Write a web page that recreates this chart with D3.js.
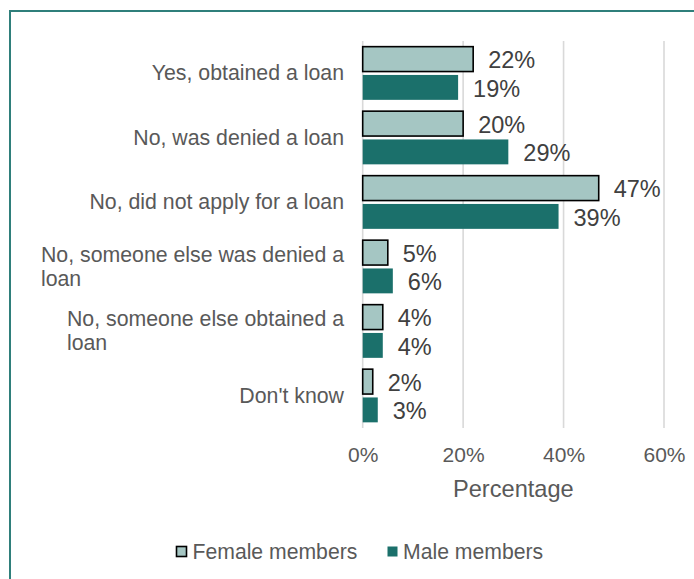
<!DOCTYPE html>
<html>
<head>
<meta charset="utf-8">
<script src="https://cdn.jsdelivr.net/npm/d3@7"></script>
<style>
  html, body { margin: 0; padding: 0; background: #ffffff; }
  svg { display: block; font-family: "Liberation Sans", Arial, sans-serif; }
</style>
</head>
<body>
<svg id="chart" width="694" height="579"></svg>
<script>
// Loan application outcomes by gender (percent of respondents)
const categories = [
  "Yes, obtained a loan",
  "No, was denied a loan",
  "No, did not apply for a loan",
  "No, someone else was denied a loan",
  "No, someone else obtained a loan",
  "Don't know"
];
const seriesNames = ["Female members", "Male members"];
const femaleValues = [22, 20, 47, 5, 4, 2];
const maleValues = [19, 29, 39, 6, 4, 3];
const tickValues = [0, 20, 40, 60];
const axisTitle = "Percentage";

const colors = { "Female members": "#a5c6c3", "Male members": "#1b706b" };
const strokes = { "Female members": "#000000", "Male members": "none" };

const rows = categories.map((c, i) => ({
  category: c,
  values: [
    { series: seriesNames[0], value: femaleValues[i] },
    { series: seriesNames[1], value: maleValues[i] }
  ]
}));

const svg = d3.select("#chart");

// outer frame
svg.append("rect")
  .attr("x", 10).attr("y", 11)
  .attr("width", 720).attr("height", 620)
  .attr("fill", "none")
  .attr("stroke", "#2f7f7b")
  .attr("stroke-width", 2);

const x = d3.scaleLinear().domain([0, 60]).range([362.7, 664]);
const y = d3.scaleBand().domain(categories).range([41, 428]).padding(0);
const ySub = d3.scaleBand().domain(seriesNames).range([0, y.bandwidth()])
  .paddingInner(0.12).paddingOuter(0.2);

// vertical gridlines
svg.append("g")
  .selectAll("line")
  .data(tickValues)
  .join("line")
  .attr("x1", d => x(d)).attr("x2", d => x(d))
  .attr("y1", 41).attr("y2", 428)
  .attr("stroke", "#d9d9d9")
  .attr("stroke-width", 1.6);

// x axis tick labels
const xAxis = d3.axisBottom(x)
  .tickValues(tickValues)
  .tickFormat(d => d + "%")
  .tickSize(0)
  .tickPadding(0);
const axisG = svg.append("g")
  .attr("transform", "translate(0,444)")
  .call(xAxis);
axisG.select(".domain").remove();
axisG.selectAll("text")
  .attr("font-family", "Liberation Sans, Arial, sans-serif")
  .attr("font-size", 21)
  .attr("fill", "#595959")
  .attr("dy", "0.88em");

svg.append("text")
  .attr("x", (x(0) + x(60)) / 2)
  .attr("y", 496.5)
  .attr("text-anchor", "middle")
  .attr("font-size", 23.6)
  .attr("fill", "#595959")
  .text(axisTitle);

// bars
const groups = svg.append("g")
  .selectAll("g")
  .data(rows)
  .join("g")
  .attr("transform", d => `translate(0,${y(d.category)})`);

groups.selectAll("rect")
  .data(d => d.values)
  .join("rect")
  .attr("x", x(0))
  .attr("y", d => ySub(d.series))
  .attr("width", d => x(d.value) - x(0))
  .attr("height", ySub.bandwidth())
  .attr("fill", d => colors[d.series])
  .attr("stroke", d => strokes[d.series])
  .attr("stroke-width", 1.6);

groups.selectAll("text.val")
  .data(d => d.values)
  .join("text")
  .attr("class", "val")
  .attr("x", d => x(d.value) + 15)
  .attr("y", d => ySub(d.series) + ySub.bandwidth() / 2 + 1)
  .attr("dy", "0.35em")
  .attr("font-size", 23.5)
  .attr("fill", "#404040")
  .text(d => d.value + "%");

// category labels, wrapped; lines left-aligned, block right-aligned to the axis
const labelRight = 344;
const maxLabelWidth = 320;
const lineHeight = 24;
const labelG = svg.append("g");
categories.forEach(cat => {
  const t = labelG.append("text")
    .attr("font-size", 21.3)
    .attr("fill", "#595959");
  // greedy word wrap
  const words = cat.split(" ");
  const lines = [];
  let current = [];
  const probe = t.append("tspan");
  words.forEach(w => {
    const trial = current.concat([w]).join(" ");
    probe.text(trial);
    if (probe.node().getComputedTextLength() > maxLabelWidth && current.length) {
      lines.push(current.join(" "));
      current = [w];
    } else {
      current.push(w);
    }
  });
  lines.push(current.join(" "));
  probe.remove();

  const cy = y(cat) + y.bandwidth() / 2;
  const firstBaseline = cy - (lines.length - 1) * lineHeight / 2 + 7;
  const spans = lines.map((ln, i) =>
    t.append("tspan").attr("y", firstBaseline + i * lineHeight).text(ln));
  const blockWidth = d3.max(spans, s => s.node().getComputedTextLength());
  spans.forEach(s => s.attr("x", labelRight - blockWidth));
});

// legend
const legend = svg.append("g");
const legendItems = [
  { name: seriesNames[0], sx: 176.5, tx: 192.5 },
  { name: seriesNames[1], sx: 387.5, tx: 403 }
];
legendItems.forEach(item => {
  legend.append("rect")
    .attr("x", item.sx).attr("y", 546.5)
    .attr("width", 10).attr("height", 10)
    .attr("fill", colors[item.name])
    .attr("stroke", strokes[item.name])
    .attr("stroke-width", 1.6);
  legend.append("text")
    .attr("x", item.tx).attr("y", 551.5)
    .attr("dy", "0.35em")
    .attr("font-size", 21.2)
    .attr("fill", "#595959")
    .text(item.name);
});
</script>
</body>
</html>
